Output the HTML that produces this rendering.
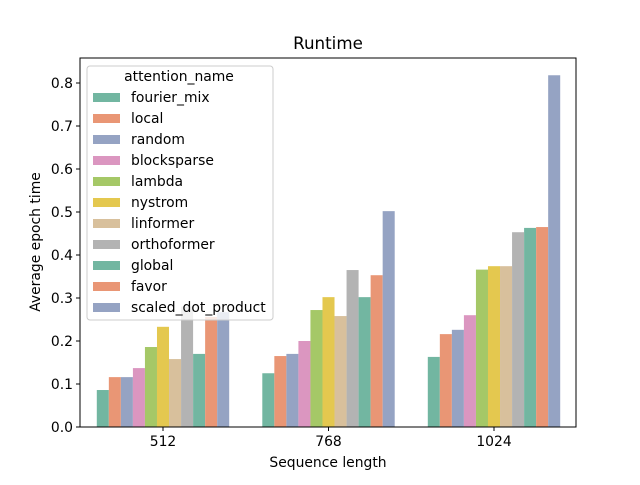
<!DOCTYPE html>
<html><head><meta charset="utf-8"><style>body{margin:0;background:#fff}text{font-family:"DejaVu Sans","Liberation Sans",sans-serif}</style></head>
<body>
<svg id="c" width="640" height="480" xmlns="http://www.w3.org/2000/svg"></svg>
<script>
const categories=["512","768","1024"];
const seriesNames=["fourier_mix","local","random","blocksparse","lambda","nystrom","linformer","orthoformer","global","favor","scaled_dot_product"];
const s512=[0.086,0.116,0.116,0.137,0.186,0.233,0.158,0.28,0.17,0.256,0.267];
const s768=[0.125,0.165,0.170,0.200,0.272,0.302,0.258,0.365,0.302,0.353,0.502];
const s1024=[0.163,0.216,0.226,0.260,0.366,0.374,0.374,0.453,0.463,0.465,0.818];
const yTicks=[0,0.1,0.2,0.3,0.4,0.5,0.6,0.7,0.8];
const values=[s512,s768,s1024];
const colors=["#72b6a1","#e99675","#95a3c3","#db96c0","#a5c867","#e4c84f","#d8c09c","#b3b3b3","#72b6a1","#e99675","#95a3c3"];
const svg=document.getElementById('c');const NS="http://www.w3.org/2000/svg";
function mk(t,a,p){const e=document.createElementNS(NS,t);for(const k in a)e.setAttribute(k,a[k]);(p||svg).appendChild(e);return e;}
const L=80,R=576,T=58,B=427;
const y=v=>B-v*430;
const x=i=>163+i*165.5;
const bw=165.5*0.8/seriesNames.length;
const FS=13.9;
yTicks.forEach(t=>{mk('line',{x1:L-4,x2:L,y1:y(t),y2:y(t),stroke:'#000'});
const tx=mk('text',{x:L-7,y:y(t)+5,'text-anchor':'end','font-size':FS});tx.textContent=t.toFixed(1);

});
categories.forEach((c,ci)=>{values[ci].forEach((v,si)=>{const r=mk('rect',{x:x(ci)-82.75*0.8+si*bw,y:y(v),width:bw,height:B-y(v),fill:colors[si]});

});
mk('line',{x1:x(ci),x2:x(ci),y1:B,y2:B+4,stroke:'#000'});
const tx=mk('text',{x:x(ci),y:B+19,'text-anchor':'middle','font-size':FS});tx.textContent=c;

});
mk('rect',{x:L,y:T,width:R-L,height:B-T,fill:'none',stroke:'#000','stroke-width':1});
let t=mk('text',{x:328,y:49,'text-anchor':'middle','font-size':16.7});t.textContent='Runtime';
t=mk('text',{x:328,y:467,'text-anchor':'middle','font-size':FS});t.textContent='Sequence length';
t=mk('text',{x:0,y:0,'text-anchor':'middle','font-size':FS,transform:'translate(40,242) rotate(-90)'});t.textContent='Average epoch time';
const g=mk('g',{});
mk('rect',{x:87,y:66,width:186,height:254,rx:3,fill:'#fff','fill-opacity':0.8,stroke:'#ccc'},g);
t=mk('text',{x:179,y:81,'text-anchor':'middle','font-size':FS},g);t.textContent='attention_name';
seriesNames.forEach((n,i)=>{const yy=97+i*21;
const r=mk('rect',{x:93,y:yy-4,width:27,height:9,fill:colors[i]},g);


const tx=mk('text',{x:131,y:yy+5,'font-size':FS},g);tx.textContent=n;

});
</script>
</body></html>
